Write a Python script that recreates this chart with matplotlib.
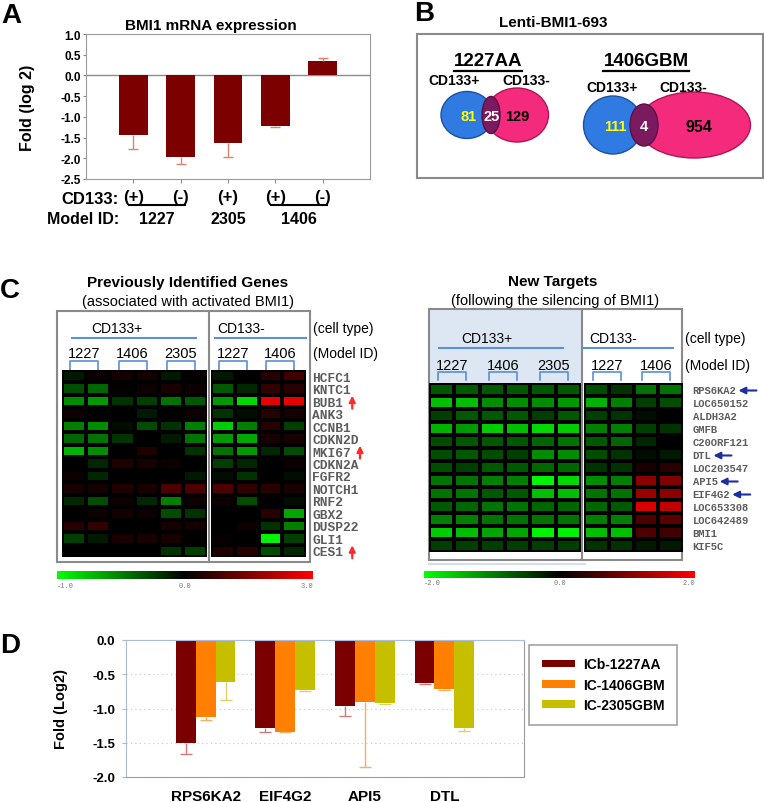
import numpy as np
import matplotlib
matplotlib.use('Agg')
import matplotlib.pyplot as plt
import matplotlib.patches as patches
import matplotlib.transforms as mtransforms
from matplotlib.colors import LinearSegmentedColormap, TwoSlopeNorm, Normalize

plt.rcParams['font.family'] = ['Liberation Sans', 'DejaVu Sans']
plt.rcParams['axes.unicode_minus'] = False

W, H = 764, 803
MONO = 'Liberation Mono'

# ---------------- data ----------------
# A: BMI1 mRNA expression
bmi1_cd133 = ['(+)', '(-)', '(+)', '(+)', '(-)']
bmi1_models = ['1227', '1227', '2305', '1406', '1406']
bmi1_fold = [-1.43, -1.97, -1.63, -1.23, 0.35]
bmi1_err = [0.34, 0.16, 0.35, 0.02, 0.07]

# B: Lenti-BMI1-693 venn counts
venn_models = ['1227AA', '1406GBM']
venn_pos_only = [81, 111]
venn_shared = [25, 4]
venn_neg_only = [129, 954]

# C: heatmaps
prev_genes = ['HCFC1', 'KNTC1', 'BUB1', 'ANK3', 'CCNB1', 'CDKN2D', 'MKI67',
              'CDKN2A', 'FGFR2', 'NOTCH1', 'RNF2', 'GBX2', 'DUSP22', 'GLI1', 'CES1']
prev_marked = ['BUB1', 'MKI67', 'CES1']
prev_pos_models = ['1227', '1406', '2305']
prev_neg_models = ['1227', '1406']
prev_pos = [
    [-0.10, 0.15, 0.24, 0.24, -0.10, 0.09],
    [-0.30, -0.40, 0.06, 0.15, 0.30, 0.15],
    [-0.55, -0.60, -0.20, -0.25, -0.45, -0.35],
    [0.15, 0.00, 0.00, -0.10, 0.00, 0.15],
    [-0.50, -0.55, -0.05, -0.30, -0.20, -0.50],
    [-0.40, -0.45, -0.20, 0.00, -0.10, -0.45],
    [-0.70, -0.55, 0.00, 0.36, 0.00, -0.20],
    [0.00, -0.15, 0.36, 0.30, 0.15, 0.00],
    [0.15, -0.15, 0.00, 0.00, 0.00, -0.10],
    [0.30, 0.24, 0.36, 0.30, 0.90, 0.90],
    [-0.15, -0.30, 0.15, -0.15, -0.50, 0.15],
    [0.00, 0.15, 0.24, 0.15, -0.30, -0.20],
    [0.45, 0.60, 0.00, 0.00, 0.24, 0.24],
    [-0.25, -0.10, 0.30, 0.30, 0.30, 0.00],
    [0.00, 0.00, 0.00, 0.00, -0.20, -0.25],
]
prev_neg = [
    [-0.10, 0.00, 0.45, 0.75],
    [-0.35, -0.15, 0.60, 0.45],
    [-0.60, -0.85, 2.70, 2.70],
    [-0.20, -0.05, 0.45, 0.30],
    [-0.80, -0.50, 0.45, -0.25],
    [-0.60, -0.65, 0.30, 0.30],
    [-0.45, -0.60, -0.15, -0.30],
    [-0.25, -0.15, 0.00, 0.15],
    [-0.05, -0.20, 0.00, -0.05],
    [0.90, 0.60, 0.45, 0.30],
    [0.15, -0.30, 0.00, -0.05],
    [0.00, 0.00, 0.45, -0.65],
    [0.00, 0.15, -0.20, -0.50],
    [0.09, 0.00, -0.95, -0.25],
    [0.36, 0.45, -0.30, -0.15],
]

new_genes = ['RPS6KA2', 'LOC650152', 'ALDH3A2', 'GMFB', 'C20ORF121', 'DTL',
             'LOC203547', 'API5', 'EIF4G2', 'LOC653308', 'LOC642489', 'BMI1', 'KIF5C']
new_marked = ['RPS6KA2', 'DTL', 'API5', 'EIF4G2']
new_pos_models = ['1227', '1406', '2305']
new_neg_models = ['1227', '1406']
new_pos = [
    [-0.7, -0.7, -0.7, -0.7, -0.7, -0.7],
    [-1.5, -1.5, -1.1, -1.1, -1.1, -1.2],
    [-0.5, -0.7, -0.7, -0.7, -0.5, -0.7],
    [-1.4, -1.2, -1.6, -1.5, -1.7, -1.6],
    [-0.6, -0.7, -0.7, -0.7, -0.8, -0.9],
    [-0.6, -0.7, -0.6, -0.5, -1.1, -1.1],
    [-0.6, -0.5, -0.7, -0.7, -0.8, -0.8],
    [-0.9, -0.9, -1.0, -1.0, -1.9, -1.7],
    [-0.9, -0.9, -0.7, -0.7, -1.5, -1.5],
    [-0.7, -0.8, -0.9, -0.9, -0.8, -0.8],
    [-1.0, -1.0, -0.9, -0.9, -0.9, -0.9],
    [-1.6, -1.5, -1.3, -1.3, -1.9, -1.9],
    [-0.5, -0.5, -0.5, -0.5, -0.5, -0.5],
]
new_neg = [
    [-0.6, -0.4, -0.9, -0.9],
    [-1.4, -1.0, -0.5, -0.6],
    [-0.5, -0.4, -0.1, 0.0],
    [-1.0, -1.0, -0.5, -0.4],
    [-0.7, -0.8, -0.3, 0.0],
    [-0.6, -0.4, -0.1, -0.2],
    [-0.4, -0.4, 0.2, 0.3],
    [-1.1, -1.0, 1.1, 1.0],
    [-0.9, -0.9, 1.2, 1.1],
    [-0.8, -0.7, 1.7, 1.5],
    [-1.0, -1.0, 0.6, 0.7],
    [-1.5, -1.5, 0.6, 0.5],
    [-0.4, -0.4, -0.2, -0.2],
]

# D: qPCR of new targets
target_genes = ['RPS6KA2', 'EIF4G2', 'API5', 'DTL']
target_lines = ['ICb-1227AA', 'IC-1406GBM', 'IC-2305GBM']
fold_1227 = [-1.51, -1.29, -0.96, -0.63]
fold_1406 = [-1.12, -1.34, -0.91, -0.72]
fold_2305 = [-0.62, -0.73, -0.92, -1.28]
err_1227 = [0.15, 0.06, 0.15, 0.01]
err_1406 = [0.05, 0.01, 0.94, 0.01]
err_2305 = [0.25, 0.01, 0.01, 0.05]

# ---------------- helpers ----------------
fig = plt.figure(figsize=(W / 100, H / 100), dpi=100)


def px_axes(x0, y0, x1, y1):
    return fig.add_axes([x0 / W, 1 - y1 / H, (x1 - x0) / W, (y1 - y0) / H])


def one_sided_err(ax, x, vals, errs, color, cap):
    tips = [v - e if v < 0 else v + e for v, e in zip(vals, errs)]
    ax.vlines(x, vals, tips, color=color, lw=1, zorder=3)
    ax.plot(x, tips, ls='none', marker='_', ms=cap, mew=1, color=color, zorder=3)


def panel_letter(x, y_base, letter):
    ov.text(x, y_base, letter, ha='left', va='baseline', fontsize=20,
            fontweight='bold')


# overlay in pixel coordinates for annotations
ov = px_axes(0, 0, W, H)
ov.set_xlim(0, W)
ov.set_ylim(H, 0)
ov.axis('off')

BLUE = '#5b8fd6'
GRAY = '#8a8a8a'

# ---------------- A ----------------
axA = px_axes(86, 35, 370, 180)
xa = np.arange(1, len(bmi1_fold) + 1)
axA.bar(xa, bmi1_fold, width=0.6, color='#7d0000', zorder=2)
one_sided_err(axA, xa, bmi1_fold, bmi1_err, '#e0806e', 7)
axA.axhline(0, color='#8c8c8c', lw=1, zorder=1)
axA.set_xlim(0, 6)
axA.set_ylim(-2.5, 1.0)
yt = np.arange(-2.5, 1.01, 0.5)
axA.set_yticks(yt)
axA.set_yticklabels([f'{v:.1f}' for v in yt], fontsize=8.5, fontweight='bold')
axA.tick_params(axis='y', length=2, pad=1.5, color=GRAY)
axA.set_xticks(xa)
axA.set_xticklabels(bmi1_cd133, fontsize=12, fontweight='bold')
axA.tick_params(axis='x', length=3, pad=4, color=GRAY)
for s in axA.spines.values():
    s.set_color('#9a9a9a')
axA.set_ylabel('Fold (log 2)', fontsize=11.5, fontweight='bold')
axA.yaxis.set_label_coords(-0.18, 0.5)
ov.text(211, 26, 'BMI1 mRNA expression', ha='center', va='center',
        fontsize=11, fontweight='bold')
panel_letter(1, 23, 'A')
ov.text(119, 199, 'CD133:', ha='right', va='center', fontsize=12, fontweight='bold')
ov.text(119, 219, 'Model ID:', ha='right', va='center', fontsize=11.5, fontweight='bold')

trA = mtransforms.blended_transform_factory(axA.transData, axA.transAxes)
for model in dict.fromkeys(bmi1_models):
    idx = [xa[i] for i, m in enumerate(bmi1_models) if m == model]
    if len(idx) > 1:
        axA.plot([min(idx) - 0.1, max(idx) + 0.1], [-0.18, -0.18], color='black',
                 lw=1.5, transform=trA, clip_on=False)
    axA.text(np.mean(idx), -0.27, model, transform=trA, ha='center', va='center',
             fontsize=11.5, fontweight='bold')

# ---------------- B ----------------
panel_letter(414, 21, 'B')
ov.text(553, 23, 'Lenti-BMI1-693', ha='center', va='center', fontsize=11, fontweight='bold')
ov.add_patch(patches.Rectangle((417, 35), 346, 144, fill=False, ec=GRAY, lw=1.5))

venn_layout = [
    dict(cx=488, lab_y=81, labx=(454, 526),
         blue=(467, 116, 52, 47), pink=(517, 116, 63, 54), mid=(491, 116, 18, 37),
         nums_x=(469, 492, 517), num_y=117, fs=(10.5, 10.5, 10.5)),
    dict(cx=646, lab_y=88, labx=(612, 683),
         blue=(613, 126, 59, 58), pink=(694, 126, 113, 66), mid=(644, 126, 28, 42),
         nums_x=(615, 644, 699), num_y=127, fs=(10.5, 10.5, 11.5)),
]
header_texts = []
for i, model in enumerate(venn_models):
    L = venn_layout[i]
    t = ov.text(L['cx'], 62, model, ha='center', va='center', fontsize=13.5,
                fontweight='bold')
    header_texts.append(t)
    ov.text(L['labx'][0], L['lab_y'], 'CD133+', ha='center', va='center',
            fontsize=10, fontweight='bold')
    ov.text(L['labx'][1], L['lab_y'], 'CD133-', ha='center', va='center',
            fontsize=10, fontweight='bold')
    bx, by, bw, bh = L['blue']
    ov.add_patch(patches.Ellipse((bx, by), bw, bh, fc='#2f7be2', ec='#1d4f9e', lw=1))
    px, py, pw, ph = L['pink']
    ov.add_patch(patches.Ellipse((px, py), pw, ph, fc='#f42a7c', ec='#b01452', lw=1))
    mx, my, mw, mh = L['mid']
    ov.add_patch(patches.Ellipse((mx, my), mw, mh, fc='#7c1a60', ec='#5a1046', lw=1))
    counts = [venn_pos_only[i], venn_shared[i], venn_neg_only[i]]
    colors = ['#ffff00', 'white', 'black']
    for x, c, col, fs in zip(L['nums_x'], counts, colors, L['fs']):
        ov.text(x, L['num_y'], str(c), ha='center', va='center', color=col,
                fontsize=fs, fontweight='bold')

# ---------------- C ----------------
gkr = LinearSegmentedColormap.from_list('gkr', ['#00ff00', '#000000', '#ff0000'])
prev_norm = TwoSlopeNorm(vmin=-1.0, vcenter=0.0, vmax=3.0)
new_norm = Normalize(vmin=-2.0, vmax=2.0)


def heat_block(box, values, norm):
    ax = px_axes(*box)
    arr = np.array(values)
    ax.pcolormesh(arr, cmap=gkr, norm=norm, edgecolors='black', linewidth=1.6)
    ax.set_xlim(0, arr.shape[1])
    ax.set_ylim(arr.shape[0], 0)
    ax.set_facecolor('black')
    ax.set_xticks([])
    ax.set_yticks([])
    for s in ax.spines.values():
        s.set_visible(False)
    return ax


def pair_brackets(box, models, y_text, y_top, y_bot, fs):
    x0, _, x1, _ = box
    colw = (x1 - x0) / (2 * len(models))
    for k, m in enumerate(models):
        xc = x0 + (2 * k + 1) * colw - 2
        ov.text(xc, y_text, m, ha='center', va='center', fontsize=fs)
        ov.plot([xc - 14, xc - 14, xc + 14, xc + 14], [y_bot, y_top, y_top, y_bot],
                color=BLUE, lw=1.2)


def gene_labels(ax, genes, fs, pad):
    ax.yaxis.tick_right()
    ax.set_yticks(np.arange(len(genes)) + 0.5)
    ax.set_yticklabels(genes, family=MONO, fontsize=fs, color='#5c5c5c',
                       fontweight='bold')
    ax.tick_params(axis='y', length=0, pad=pad)


# left heatmap
panel_letter(0, 298, 'C')
ov.text(188, 283, 'Previously Identified Genes', ha='center', va='center',
        fontsize=11, fontweight='bold')
ov.text(188, 302, '(associated with activated BMI1)', ha='center', va='center',
        fontsize=10.5)
ov.add_patch(patches.Rectangle((57, 312), 253, 251, fill=False, ec=GRAY, lw=1.5))
ov.plot([209, 209], [312, 563], color=GRAY, lw=1.5)
ov.text(117, 329, 'CD133+', ha='center', va='center', fontsize=10)
ov.text(241, 329, 'CD133-', ha='center', va='center', fontsize=10)
ov.text(313, 329, '(cell type)', ha='left', va='center', fontsize=10)
ov.text(313, 354, '(Model ID)', ha='left', va='center', fontsize=10)
ov.plot([72, 196], [339, 339], color=BLUE, lw=1.5)
ov.plot([215, 306], [339, 339], color=BLUE, lw=1.5)

prev_box_pos = (62, 371, 207, 558)
prev_box_neg = (211, 371, 306, 558)
heat_block(prev_box_pos, prev_pos, prev_norm)
ax_prev_neg = heat_block(prev_box_neg, prev_neg, prev_norm)
gene_labels(ax_prev_neg, prev_genes, 9.3, 4.5)
pair_brackets(prev_box_pos, prev_pos_models, 354, 362, 371, 10.5)
pair_brackets(prev_box_neg, prev_neg_models, 354, 362, 371, 10.5)

# right heatmap
ov.text(553, 282, 'New Targets', ha='center', va='center', fontsize=11, fontweight='bold')
ov.text(555, 301, '(following the silencing of BMI1)', ha='center', va='center',
        fontsize=10.5)
ov.add_patch(patches.Rectangle((429, 310), 153, 74, fc='#dde7f3', ec='none'))
ov.add_patch(patches.Rectangle((429, 310), 253, 251, fill=False, ec=GRAY, lw=1.5))
ov.plot([582, 582], [310, 561], color=GRAY, lw=1.5)
ov.plot([429, 585], [565, 565], color='#d3dff0', lw=1.5)
ov.text(487, 339, 'CD133+', ha='center', va='center', fontsize=10)
ov.text(613, 339, 'CD133-', ha='center', va='center', fontsize=10)
ov.text(685, 339, '(cell type)', ha='left', va='center', fontsize=10)
ov.text(685, 366, '(Model ID)', ha='left', va='center', fontsize=10)
ov.plot([439, 563], [349, 349], color=BLUE, lw=1.5)
ov.plot([582, 673], [349, 349], color=BLUE, lw=1.5)

new_box_pos = (429, 384, 581, 553)
new_box_neg = (584, 384, 683, 553)
heat_block(new_box_pos, new_pos, new_norm)
ax_new_neg = heat_block(new_box_neg, new_neg, new_norm)
gene_labels(ax_new_neg, new_genes, 7.6, 7)
pair_brackets(new_box_pos, new_pos_models, 366, 373, 381, 10.5)
pair_brackets(new_box_neg, new_neg_models, 366, 373, 381, 10.5)

# colour scales
grad = np.linspace(0, 1, 256)[None, :]
for (x0, y0, x1, y1), norm, ly in [((57, 572, 313, 580), prev_norm, 587),
                                   ((424, 572, 695, 579), new_norm, 584)]:
    cax = px_axes(x0, y0, x1, y1)
    cax.imshow(grad, cmap=gkr, aspect='auto', extent=(0, 1, 0, 1))
    cax.axis('off')
    vmin, vmax = norm.vmin, norm.vmax
    for v, ha in [(vmin, 'left'), (0.0, 'center'), (vmax, 'right')]:
        x = x0 + float(norm(v)) * (x1 - x0)
        ov.text(x, ly, f'{v:.1f}', ha=ha, va='center', fontsize=5,
                family=MONO, color='#777777')

# ---------------- D ----------------
axD = px_axes(126, 641, 524, 778)
xd = np.arange(len(target_genes))
bw = 0.25
series = [(fold_1227, err_1227, '#7a0000', '#cf7a78'),
          (fold_1406, err_1406, '#ff7f00', '#f2b066'),
          (fold_2305, err_2305, '#c6bf00', '#d9d26a')]
for k, (vals, errs, col, ecol) in enumerate(series):
    xs = xd + (k - 1) * bw
    axD.bar(xs, vals, width=bw, color=col, label=target_lines[k], zorder=2)
    one_sided_err(axD, xs, vals, errs, ecol, 8)
axD.set_xlim(-1, 4)
axD.set_ylim(-2.0, 0.0)
ytd = np.arange(-2.0, 0.01, 0.5)
axD.set_yticks(ytd)
axD.set_yticklabels([f'{v:.1f}' for v in ytd], fontsize=9.5, fontweight='bold')
axD.tick_params(axis='y', length=3, pad=5, color='#b0b8c8')
axD.set_xticks(xd)
axD.set_xticklabels(target_genes, fontsize=11, fontweight='bold')
axD.tick_params(axis='x', length=0, pad=9)
axD.yaxis.grid(True, ls=(0, (1, 3)), color='#c8c8c8', lw=0.8)
axD.set_axisbelow(True)
axD.spines['top'].set_color('#a9bde0')
axD.spines['left'].set_color('#b0bcd0')
axD.spines['right'].set_color('#9a9a9a')
axD.spines['bottom'].set_color('#9a9a9a')
axD.set_ylabel('Fold (Log2)', fontsize=10.5, fontweight='bold')
axD.yaxis.set_label_coords(-0.146, 0.5)
leg = axD.legend(loc='upper left', bbox_to_anchor=(529 / W, 1 - 646 / H),
                 bbox_transform=fig.transFigure, frameon=True, fancybox=False,
                 borderaxespad=0, borderpad=0.9, handlelength=2.4, handleheight=0.45,
                 handletextpad=0.6, labelspacing=0.45,
                 prop={'size': 10, 'weight': 'bold'})
leg.get_frame().set_edgecolor(GRAY)
leg.get_frame().set_linewidth(1.2)
panel_letter(0, 653, 'D')

# ---------------- extents-based decorations ----------------
fig.canvas.draw()
inv = ov.transData.inverted()

for t in header_texts:
    bb = t.get_window_extent()
    (xl, _), (xr, _) = inv.transform([(bb.x0, bb.y0), (bb.x1, bb.y0)])
    ov.plot([xl, xr], [72, 72], color='black', lw=1.6)

for lab in ax_prev_neg.get_yticklabels():
    if lab.get_text() in prev_marked:
        bb = lab.get_window_extent()
        (xr, yc), = inv.transform([(bb.x1, (bb.y0 + bb.y1) / 2)])
        ov.annotate('', xy=(xr + 9, yc - 7), xytext=(xr + 9, yc + 6),
                    arrowprops=dict(arrowstyle='-|>', color='#ff2a2a', lw=1.6,
                                    mutation_scale=9, shrinkA=0, shrinkB=0))

for lab in ax_new_neg.get_yticklabels():
    if lab.get_text() in new_marked:
        bb = lab.get_window_extent()
        (xr, yc), = inv.transform([(bb.x1, (bb.y0 + bb.y1) / 2)])
        ov.annotate('', xy=(xr + 2, yc), xytext=(xr + 20, yc),
                    arrowprops=dict(arrowstyle='-|>', color='#1d2f9e', lw=1.5,
                                    mutation_scale=10, shrinkA=0, shrinkB=0))

fig.savefig('out.png', dpi=100)
